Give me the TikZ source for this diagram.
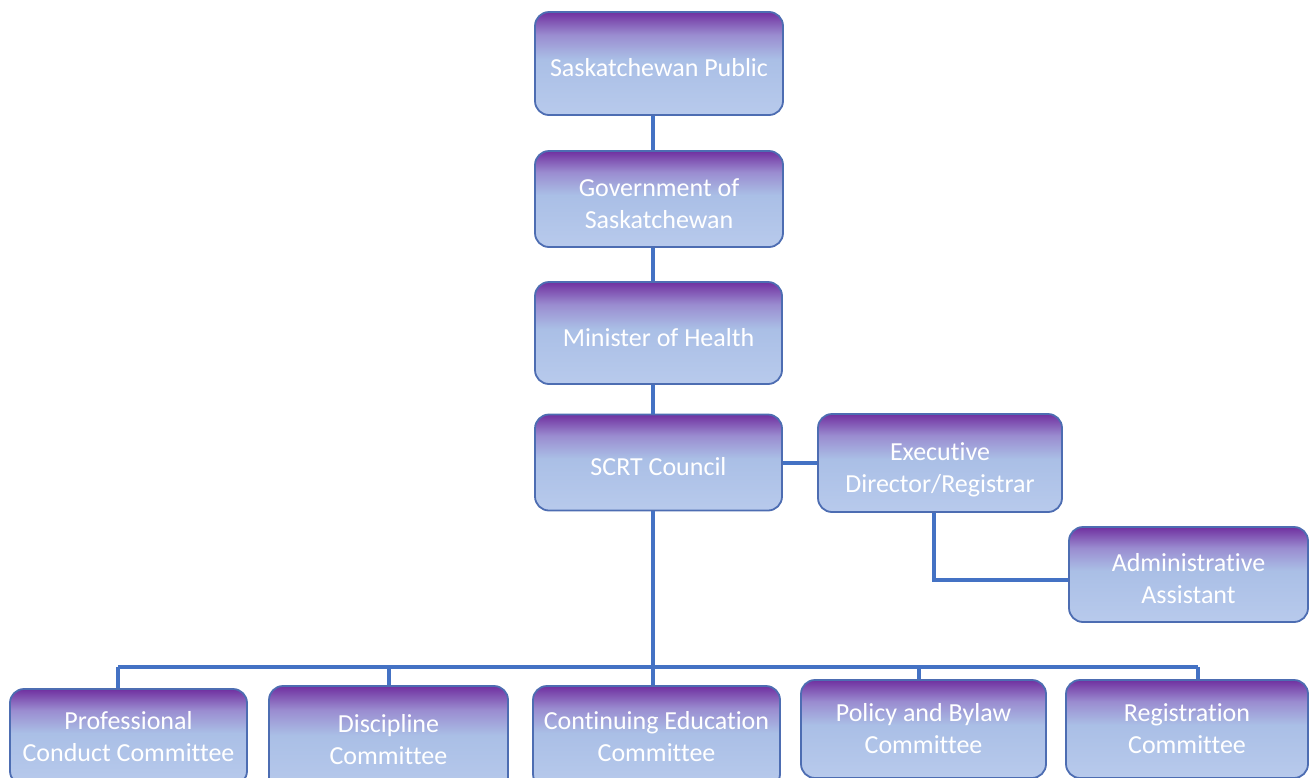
\documentclass[tikz,border=0pt]{standalone}
\usepackage{fontspec}
\setmainfont{Carlito}[Ligatures=NoCommon]
\usetikzlibrary{calc}

\definecolor{gradpurple}{HTML}{7030A0}
\definecolor{gradlav}{HTML}{9A8CD0}
\definecolor{gradblue}{HTML}{AABFE6}
\definecolor{gradlow}{HTML}{B8CAEC}
\definecolor{boxedge}{HTML}{4D6DB2}
\definecolor{linkblue}{HTML}{4472C4}

\pgfdeclareverticalshading{boxgrad}{100bp}{color(0bp)=(gradlow); color(25bp)=(gradlow); color(52bp)=(gradblue); color(64bp)=(gradlav); color(75bp)=(gradpurple); color(100bp)=(gradpurple)}

% text set a little below the middle of its box
\newcommand{\lowtext}[1]{\raisebox{-7pt}[\height][\depth]{\begin{tabular}{@{}c@{}}#1\end{tabular}}}

\begin{document}
\begin{tikzpicture}[x=1pt, y=-1pt,
				every node/.style={rectangle, rounded corners=14pt, draw=boxedge, line width=1.8pt,
					shading=boxgrad, text=white, align=center, inner sep=0pt,
					font=\fontsize{26}{32}\selectfont},
				link/.style={draw=linkblue, line width=4pt}
				]
				\clip (0,0) rectangle (1310,777);
				\fill[white] (0,0) rectangle (1310,777);
				% upper chain
				\node[minimum width=248pt, minimum height=103pt] (pub) at (659,63.5) {\lowtext{Saskatchewan Public}};
				\node[minimum width=248pt, minimum height=96pt] (gov) at (659,199) {\lowtext{Government of\\Saskatchewan}};
				\node[minimum width=247pt, minimum height=102pt] (min) at (658.5,333) {\lowtext{Minister of Health}};
				\node[minimum width=247pt, minimum height=96pt] (council) at (658.5,462.5) {\lowtext{SCRT Council}};
				\node[minimum width=244pt, minimum height=98pt] (exec) at (940,463) {\lowtext{Executive\\Director/Registrar}};
				\node[minimum width=239pt, minimum height=95pt] (admin) at (1188.5,574.5) {\lowtext{Administrative\\Assistant}};
				% committees
				\node[minimum width=237pt, minimum height=96pt] (prof) at (128.5,737) {Professional\\Conduct Committee};
				\node[minimum width=239pt, minimum height=108pt] (disc) at (388.5,740) {Discipline\\Committee};
				\node[minimum width=247pt, minimum height=102pt] (cont) at (656.5,737) {Continuing Education\\Committee};
				\node[minimum width=245pt, minimum height=98pt] (policy) at (923.5,729) {Policy and Bylaw\\Committee};
				\node[minimum width=242pt, minimum height=98pt] (reg) at (1187,729) {Registration\\Committee};

				\coordinate (spine) at (653,0);
				\coordinate (busL) at (118,667);
				\coordinate (busR) at (1198,667);
				\draw[link] (spine |- pub.south) -- (spine |- gov.north);
				\draw[link] (spine |- gov.south) -- (spine |- min.north);
				\draw[link] (spine |- min.south) -- (spine |- council.north);
				\draw[link] (spine |- council.south) -- (spine |- cont.north);
				\draw[link] (exec.west -| council.east) -- (exec.west);
				\draw[link] ([xshift=-6pt]exec.south) |- ([yshift=-5pt]admin.west);
				\draw[link] (busL) -- (busR);
				\draw[link] (busL) -- (busL |- prof.north);
				\draw[link] (disc.north |- busL) -- (disc.north);
				\draw[link] ([xshift=-5pt]policy.north |- busL) -- ([xshift=-5pt]policy.north);
				\draw[link] (busR) -- (busR |- reg.north);
			\end{tikzpicture}
\end{document}
